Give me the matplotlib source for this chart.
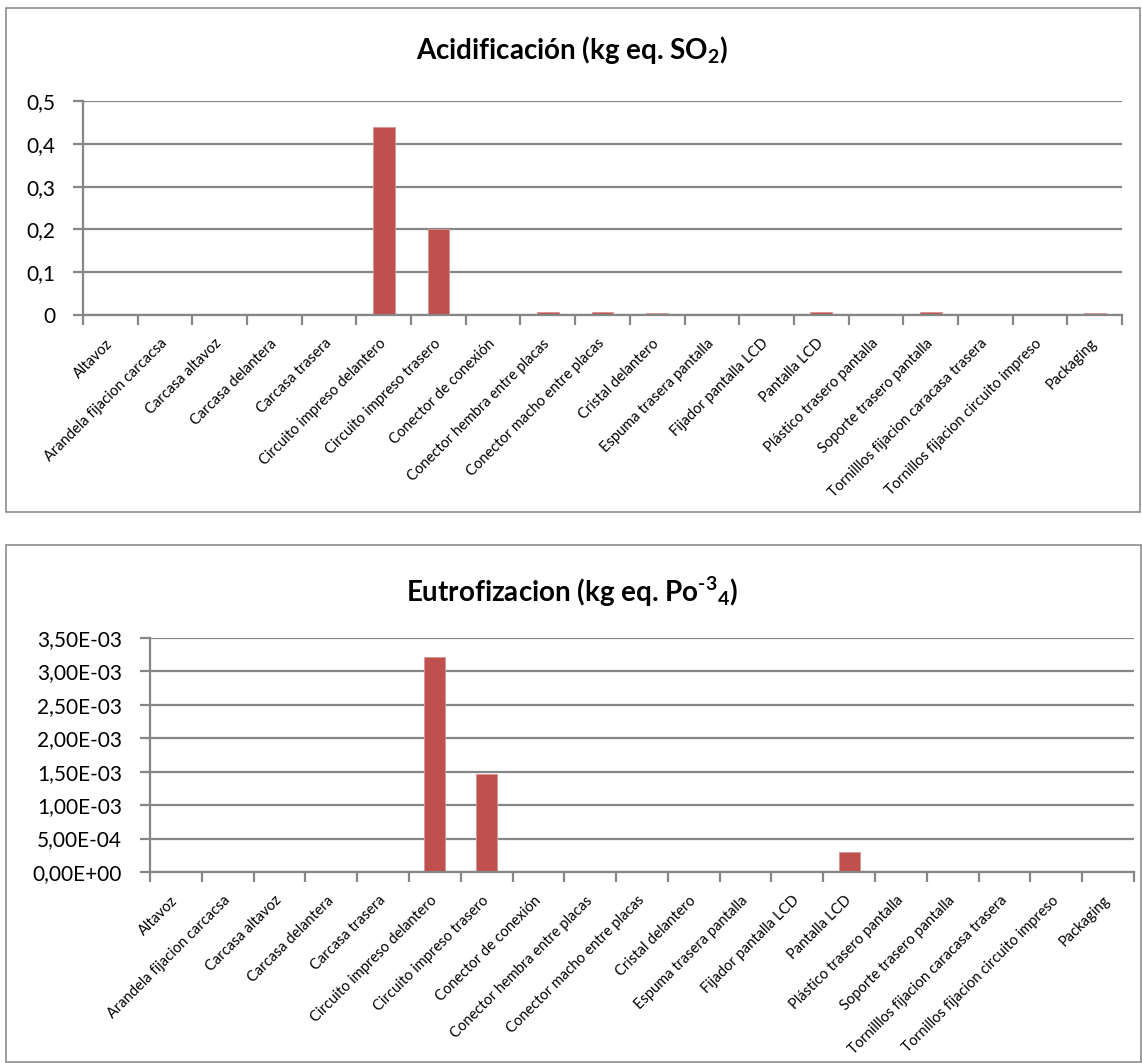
import matplotlib
matplotlib.use("Agg")
import matplotlib.pyplot as plt
from matplotlib.patches import Rectangle
from matplotlib.ticker import FixedLocator
from matplotlib.transforms import ScaledTranslation
import numpy as np

plt.rcParams['font.family'] = ['Lato', 'DejaVu Sans']
plt.rcParams['mathtext.fontset'] = 'custom'
plt.rcParams['mathtext.rm'] = 'Lato:bold'
plt.rcParams['mathtext.it'] = 'Lato:bold'
plt.rcParams['mathtext.bf'] = 'Lato:bold'

componentes = [
    "Altavoz", "Arandela fijacion carcacsa", "Carcasa altavoz", "Carcasa delantera",
    "Carcasa trasera", "Circuito impreso delantero", "Circuito impreso trasero",
    "Conector de conexión", "Conector hembra entre placas", "Conector macho entre placas",
    "Cristal delantero", "Espuma trasera pantalla", "Fijador pantalla LCD", "Pantalla LCD",
    "Plástico trasero pantalla", "Soporte trasero pantalla", "Tornilllos fijacion caracasa trasera",
    "Tornillos fijacion circuito impreso", "Packaging",
]

acidificacion = [0, 0, 0, 0, 0, 0.44, 0.20, 0, 0.007, 0.007,
                 0.004, 0, 0, 0.006, 0, 0.006, 0, 0, 0.004]
eutrofizacion = [0, 0, 0, 0, 0, 3.21e-3, 1.46e-3, 0, 0, 0,
                 0, 0, 0, 3.0e-4, 0, 0, 0, 0, 2.0e-5]

acid_ticks = [0, 0.1, 0.2, 0.3, 0.4, 0.5]
acid_labels = ["0", "0,1", "0,2", "0,3", "0,4", "0,5"]
eu_ticks = [0, 5e-4, 1e-3, 1.5e-3, 2e-3, 2.5e-3, 3e-3, 3.5e-3]
eu_labels = ["0,00E+00", "5,00E-04", "1,00E-03", "1,50E-03", "2,00E-03",
             "2,50E-03", "3,00E-03", "3,50E-03"]

BAR = "#C0504D"
GRID = "#868686"
W, H = 1142, 1063

fig = plt.figure(figsize=(W / 100, H / 100), dpi=100)

# chart frames
for (x0, y0, x1, y1) in [(6, 8, 1140, 512), (6, 545, 1141, 1062)]:
    fig.patches.append(Rectangle((x0 / W, 1 - y1 / H), (x1 - x0) / W, (y1 - y0) / H,
                                 transform=fig.transFigure, fill=False,
                                 edgecolor="#8C8C8C", linewidth=1.2))


def panel(rect, frame_cx, values, labels, ticks, ticklabels, title, title_y):
    l, t, r, b = rect
    ax = fig.add_axes([l / W, 1 - b / H, (r - l) / W, (b - t) / H])
    x = np.arange(len(values))
    ax.bar(x, values, width=0.4, color=BAR, edgecolor="#D99694", linewidth=0.6, zorder=3)
    ax.set_xlim(-0.5, len(values) - 0.5)
    ax.set_ylim(ticks[0], ticks[-1])
    ax.set_yticks(ticks)
    ax.set_yticklabels(ticklabels, fontsize=15)
    ax.yaxis.grid(True, color=GRID, linewidth=1.6, zorder=0)
    ax.set_xticks(x)
    ax.set_xticklabels(labels, rotation=45, ha="right", va="center",
                       rotation_mode="anchor", fontsize=10.5)
    shift = ScaledTranslation(3 / 100, 0, fig.dpi_scale_trans)
    for lab in ax.get_xticklabels():
        lab.set_transform(lab.get_transform() + shift)
    ax.xaxis.set_minor_locator(FixedLocator(np.arange(len(values) + 1) - 0.5))
    ax.tick_params(axis="x", which="major", length=0, pad=19)
    ax.tick_params(axis="x", which="minor", length=7, width=1.6, color=GRID)
    ax.tick_params(axis="y", length=7, width=1.6, color=GRID, pad=13)
    for s in ("top", "right"):
        ax.spines[s].set_visible(False)
    for s in ("left", "bottom"):
        ax.spines[s].set_color(GRID)
        ax.spines[s].set_linewidth(1.6)
    ax.spines["bottom"].set_zorder(4)
    fig.text(frame_cx / W, 1 - title_y / H, title, ha="center", va="center",
             fontsize=20, fontweight="bold")
    return ax


panel((83, 101, 1122, 315), 572, acidificacion, componentes, acid_ticks, acid_labels,
      r"Acidificación (kg eq. SO$_2$)", 50)
panel((150, 638, 1134, 872), 572, eutrofizacion, componentes, eu_ticks, eu_labels,
      "Eutrofizacion (kg eq. Po$^{\u20103}{}_4$)", 592)

fig.savefig("out.png", dpi=100, facecolor="white")
